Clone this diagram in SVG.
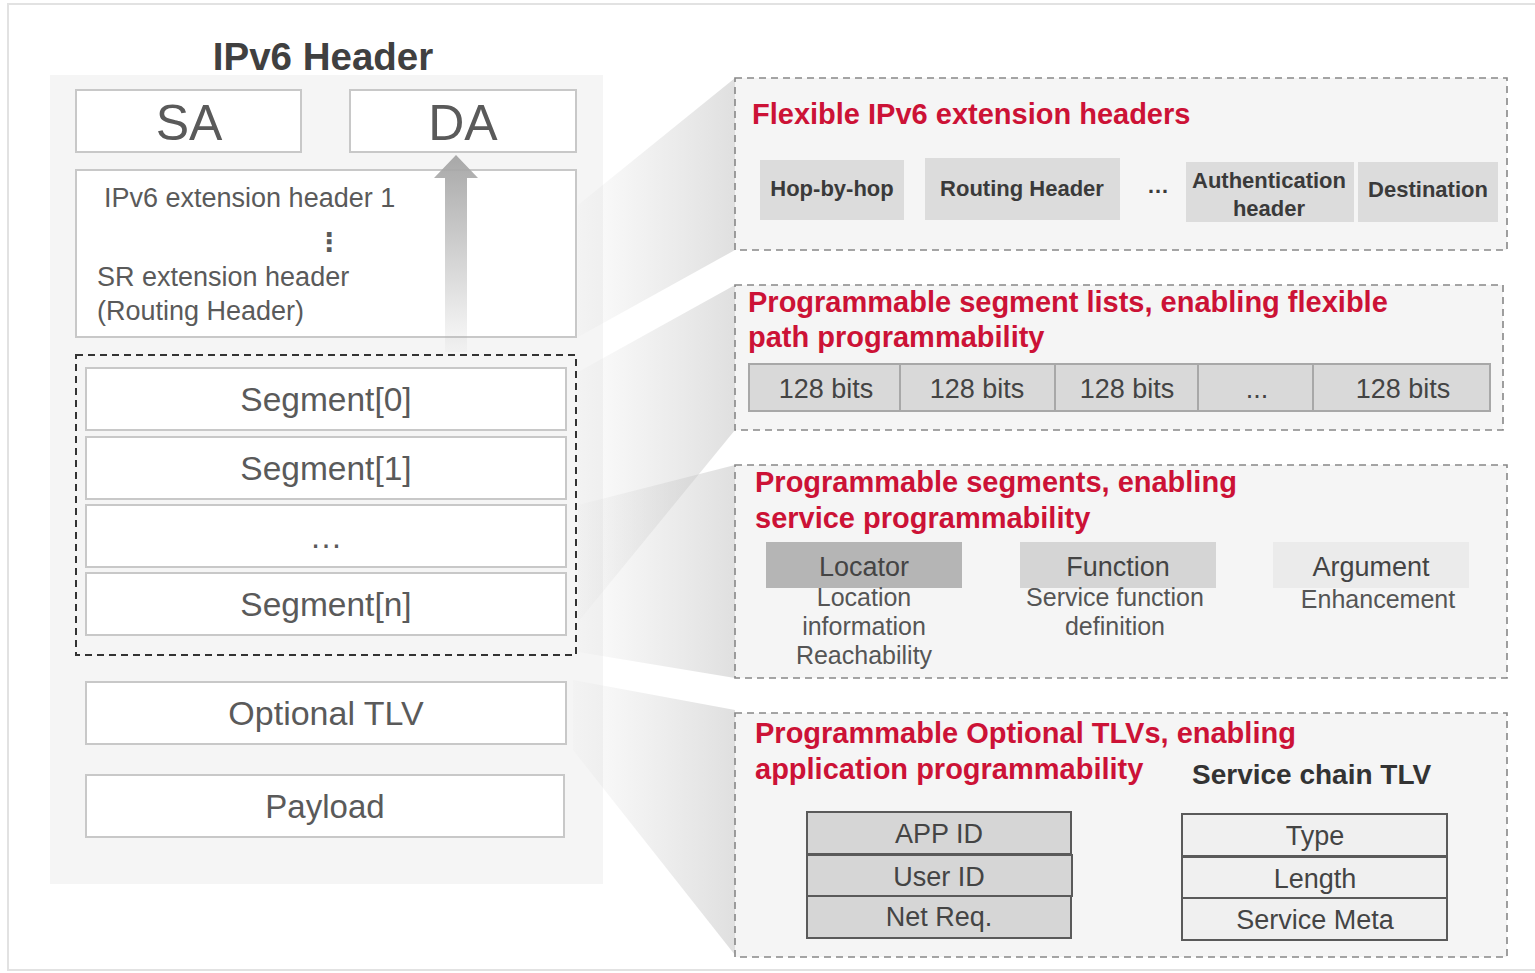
<svg xmlns="http://www.w3.org/2000/svg" width="1535" height="973" viewBox="0 0 1535 973">
<defs>
<linearGradient id="wedge" x1="0" y1="0" x2="1" y2="0">
<stop offset="0" stop-color="#c8c8c8" stop-opacity="0.05"/>
<stop offset="1" stop-color="#c0c0c0" stop-opacity="0.5"/>
</linearGradient>
<linearGradient id="arrowg" x1="0" y1="0" x2="0" y2="1">
<stop offset="0" stop-color="#a8a8a8"/>
<stop offset="1" stop-color="#a8a8a8" stop-opacity="0.05"/>
</linearGradient>
<style>
.lbox{fill:#ffffff;stroke:#c8c8c8;stroke-width:2}
.ltxt{font-family:"Liberation Sans",Arial,sans-serif;fill:#5a5a5a}
.rbox{fill:#f5f5f5;stroke:#888;stroke-width:1.6;stroke-dasharray:7 5}
.red{font-family:"Liberation Sans",Arial,sans-serif;font-weight:bold;font-size:29px;fill:#cc1236}
.gbtxt{font-family:"Liberation Sans",Arial,sans-serif;font-weight:bold;font-size:22px;fill:#3a3a3a;text-anchor:middle}
.rtxt{font-family:"Liberation Sans",Arial,sans-serif;font-size:27px;fill:#444;text-anchor:middle}
.stxt{font-family:"Liberation Sans",Arial,sans-serif;font-size:25px;fill:#555;text-anchor:middle}
.cell{fill:#d9d9d9;stroke:#a8a8a8;stroke-width:2}
.tlv{stroke:#5a5a5a;stroke-width:2}
</style>
</defs>
<rect x="8" y="4" width="1540" height="966" fill="#ffffff" stroke="#e2e2e2" stroke-width="2"/>
<rect x="50" y="75" width="553" height="809" fill="#f5f5f5"/>

<g id="connectors">
<polygon points="578,205 735,78 735,250 578,337" fill="url(#wedge)"/>
<polygon points="578,372 735,285 735,430 578,622" fill="url(#wedge)"/>
<polygon points="578,505 735,465 735,678 578,652" fill="url(#wedge)"/>
<polygon points="573,680 735,710 735,955 573,750" fill="url(#wedge)"/>
</g>

<text x="323" y="70" text-anchor="middle" style="font-family:'Liberation Sans',Arial,sans-serif;font-weight:bold;font-size:38.5px;fill:#404040">IPv6 Header</text>

<g id="sa"><rect class="lbox" x="76" y="90" width="225" height="62"/><text class="ltxt" x="189" y="140" text-anchor="middle" font-size="50">SA</text></g>
<g id="da"><rect class="lbox" x="350" y="90" width="226" height="62"/><text class="ltxt" x="463" y="140" text-anchor="middle" font-size="50">DA</text></g>
<g id="ext">
<rect class="lbox" x="76" y="170" width="500" height="167"/>
<text class="ltxt" x="104" y="207" font-size="27">IPv6 extension header 1</text>
<text class="ltxt" x="329" y="251" text-anchor="middle" font-size="26" style="font-family:'DejaVu Sans',sans-serif;font-weight:bold">⋮</text>
<text class="ltxt" x="97" y="286" font-size="27">SR extension header</text>
<text class="ltxt" x="97" y="320" font-size="27">(Routing Header)</text>
</g>
<g id="arrow"><polygon points="456,155 478,178 467,178 467,352 445,352 445,178 434,178" fill="url(#arrowg)"/></g>

<g id="segments">
<rect x="76" y="355" width="500" height="300" fill="none" stroke="#333" stroke-width="2" stroke-dasharray="7 5"/>
<rect class="lbox" x="86" y="368" width="480" height="62"/><text class="ltxt" x="326" y="411" text-anchor="middle" font-size="33.5">Segment[0]</text>
<rect class="lbox" x="86" y="437" width="480" height="62"/><text class="ltxt" x="326" y="480" text-anchor="middle" font-size="33.5">Segment[1]</text>
<rect class="lbox" x="86" y="505" width="480" height="62"/><text class="ltxt" x="326" y="548" text-anchor="middle" font-size="33">…</text>
<rect class="lbox" x="86" y="573" width="480" height="62"/><text class="ltxt" x="326" y="616" text-anchor="middle" font-size="33.5">Segment[n]</text>
</g>
<g id="opttlv"><rect class="lbox" x="86" y="682" width="480" height="62"/><text class="ltxt" x="326" y="725" text-anchor="middle" font-size="34">Optional TLV</text></g>
<g id="payload"><rect class="lbox" x="86" y="775" width="478" height="62"/><text class="ltxt" x="325" y="818" text-anchor="middle" font-size="33">Payload</text></g>

<g id="box1">
<rect class="rbox" x="735" y="78" width="772" height="172"/>
<text class="red" x="752" y="124">Flexible IPv6 extension headers</text>
<rect x="760" y="160" width="144" height="60" fill="#dcdcdc"/><text class="gbtxt" x="832" y="196">Hop-by-hop</text>
<rect x="925" y="158" width="195" height="62" fill="#dcdcdc"/><text class="gbtxt" x="1022" y="196">Routing Header</text>
<text class="gbtxt" x="1158" y="193">…</text>
<rect x="1186" y="162" width="168" height="60" fill="#dcdcdc"/><text class="gbtxt" x="1269" y="188">Authentication</text><text class="gbtxt" x="1269" y="216">header</text>
<rect x="1358" y="162" width="140" height="60" fill="#dcdcdc"/><text class="gbtxt" x="1428" y="197">Destination</text>
</g>

<g id="box2">
<rect class="rbox" x="735" y="285" width="768" height="145"/>
<text class="red" x="748" y="312">Programmable segment lists, enabling flexible</text>
<text class="red" x="748" y="347">path programmability</text>
<rect class="cell" x="749" y="364" width="151" height="47"/><text class="rtxt" x="826" y="398">128 bits</text>
<rect class="cell" x="900" y="364" width="155" height="47"/><text class="rtxt" x="977" y="398">128 bits</text>
<rect class="cell" x="1055" y="364" width="143" height="47"/><text class="rtxt" x="1127" y="398">128 bits</text>
<rect class="cell" x="1198" y="364" width="115" height="47"/><text class="rtxt" x="1257" y="398">...</text>
<rect class="cell" x="1313" y="364" width="177" height="47"/><text class="rtxt" x="1403" y="398">128 bits</text>
</g>

<g id="box3">
<rect class="rbox" x="735" y="465" width="772" height="213"/>
<text class="red" x="755" y="492">Programmable segments, enabling</text>
<text class="red" x="755" y="528">service programmability</text>
<rect x="766" y="542" width="196" height="46" fill="#b5b5b5"/><text class="rtxt" x="864" y="576" font-size="31">Locator</text>
<rect x="1020" y="542" width="196" height="46" fill="#d5d5d5"/><text class="rtxt" x="1118" y="576" font-size="31">Function</text>
<rect x="1273" y="542" width="196" height="46" fill="#ebebeb"/><text class="rtxt" x="1371" y="576" font-size="31">Argument</text>
<text class="stxt" x="864" y="606">Location</text>
<text class="stxt" x="864" y="635">information</text>
<text class="stxt" x="864" y="664">Reachability</text>
<text class="stxt" x="1115" y="606">Service function</text>
<text class="stxt" x="1115" y="635">definition</text>
<text class="stxt" x="1378" y="608">Enhancement</text>
</g>

<g id="box4">
<rect class="rbox" x="735" y="713" width="772" height="244"/>
<text class="red" x="755" y="743">Programmable Optional TLVs, enabling</text>
<text class="red" x="755" y="779">application programmability</text>
<text x="1192" y="784" style="font-family:'Liberation Sans',Arial,sans-serif;font-weight:bold;font-size:28px;fill:#333">Service chain TLV</text>
<rect class="tlv" x="807" y="812" width="264" height="42" fill="#d6d6d6"/><text class="rtxt" x="939" y="843" font-size="28">APP ID</text>
<rect class="tlv" x="807" y="855" width="265" height="41" fill="#d6d6d6"/><text class="rtxt" x="939" y="886" font-size="28">User ID</text>
<rect class="tlv" x="807" y="896" width="264" height="42" fill="#d6d6d6"/><text class="rtxt" x="939" y="926" font-size="28">Net Req.</text>
<rect class="tlv" x="1182" y="814" width="265" height="42" fill="#f0f0f0"/><text class="rtxt" x="1315" y="845" font-size="28">Type</text>
<rect class="tlv" x="1182" y="857" width="265" height="41" fill="#f0f0f0"/><text class="rtxt" x="1315" y="888" font-size="28">Length</text>
<rect class="tlv" x="1182" y="898" width="265" height="42" fill="#f0f0f0"/><text class="rtxt" x="1315" y="929" font-size="28">Service Meta</text>
</g>
</svg>
